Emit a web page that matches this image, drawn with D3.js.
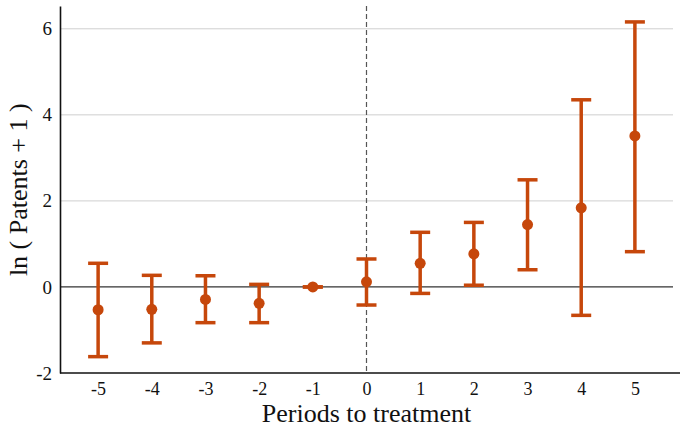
<!DOCTYPE html>
<html>
<head>
<meta charset="utf-8">
<script src="https://cdn.jsdelivr.net/npm/d3@7"></script>
<style>
  body { margin: 0; background: #fff; }
</style>
</head>
<body>
<svg id="chart"></svg>
<script>
let periods = [-5, -4, -3, -2, -1, 0, 1, 2, 3, 4, 5];
let estimates = [-0.53, -0.52, -0.29, -0.38, 0, 0.12, 0.55, 0.77, 1.45, 1.84, 3.51];
let ciLower = [-1.62, -1.30, -0.83, -0.83, 0, -0.42, -0.15, 0.04, 0.40, -0.66, 0.82];
let ciUpper = [0.55, 0.27, 0.26, 0.06, 0, 0.65, 1.27, 1.50, 2.49, 4.35, 6.16];
let yTicks = [-2, 0, 2, 4, 6];

let width = 680, height = 428;
let margin = {top: 6, right: 7, bottom: 55, left: 60};
let color = "#c6470b";
let serif = "'Liberation Serif', 'Times New Roman', serif";

let svg = d3.select("#chart")
    .attr("width", width)
    .attr("height", height);

let x = d3.scaleLinear()
    .domain([-5.71, 5.71])
    .range([margin.left, width - margin.right]);

let y = d3.scaleLinear()
    .domain([-2, 6.53])
    .range([height - margin.bottom, margin.top]);

// gridlines
svg.append("g")
    .selectAll("line")
    .data(yTicks.filter(d => d !== 0 && d !== -2))
    .join("line")
    .attr("x1", x.range()[0])
    .attr("x2", x.range()[1])
    .attr("y1", d => y(d))
    .attr("y2", d => y(d))
    .attr("stroke", "#cfcfcf")
    .attr("stroke-width", 1);

// zero line
svg.append("line")
    .attr("x1", x.range()[0])
    .attr("x2", x.range()[1])
    .attr("y1", y(0))
    .attr("y2", y(0))
    .attr("stroke", "#333")
    .attr("stroke-width", 1.2);

// treatment line
svg.append("line")
    .attr("x1", x(0))
    .attr("x2", x(0))
    .attr("y1", y.range()[1])
    .attr("y2", y.range()[0])
    .attr("stroke", "#555")
    .attr("stroke-width", 1.2)
    .attr("stroke-dasharray", "5,3");

// axes
let yAxis = svg.append("g")
    .attr("transform", "translate(" + margin.left + ",0)")
    .call(d3.axisLeft(y).tickValues(yTicks).tickSize(0).tickPadding(8).tickFormat(d => String(d)));
yAxis.attr("font-family", serif).attr("font-size", 19);
yAxis.selectAll("text").attr("fill", "#111");
yAxis.select(".domain").attr("stroke", "#111").attr("stroke-width", 1.6);

let xAxis = svg.append("g")
    .attr("transform", "translate(0," + (height - margin.bottom) + ")")
    .call(d3.axisBottom(x).tickValues(periods).tickSize(0).tickPadding(9).tickFormat(d => String(d)));
xAxis.attr("font-family", serif).attr("font-size", 18);
xAxis.selectAll("text").attr("fill", "#111");
xAxis.select(".domain").attr("stroke", "#111").attr("stroke-width", 1.6)
    .attr("d", "M" + margin.left + ",0H" + width);

// error bars
let bars = svg.append("g");
let capHalf = 10;
periods.forEach((p, i) => {
    bars.append("line")
        .attr("x1", x(p)).attr("x2", x(p))
        .attr("y1", y(ciLower[i])).attr("y2", y(ciUpper[i]))
        .attr("stroke", color).attr("stroke-width", 3.5);
    [ciLower[i], ciUpper[i]].forEach(v => {
        bars.append("line")
            .attr("x1", x(p) - capHalf).attr("x2", x(p) + capHalf)
            .attr("y1", y(v)).attr("y2", y(v))
            .attr("stroke", color).attr("stroke-width", 3.5);
    });
});

bars.selectAll("circle")
    .data(periods)
    .join("circle")
    .attr("cx", d => x(d))
    .attr("cy", (d, i) => y(estimates[i]))
    .attr("r", 5.5)
    .attr("fill", color);

// titles
svg.append("text")
    .attr("x", x(0))
    .attr("y", 422)
    .attr("text-anchor", "middle")
    .attr("font-family", serif)
    .attr("font-size", 26)
    .attr("fill", "#111")
    .text("Periods to treatment");

svg.append("text")
    .attr("transform", "translate(27," + y(2.26) + ") rotate(-90)")
    .attr("text-anchor", "middle")
    .attr("font-family", serif)
    .attr("font-size", 26)
    .attr("fill", "#111")
    .text("ln ( Patents + 1 )");
</script>
</body>
</html>
